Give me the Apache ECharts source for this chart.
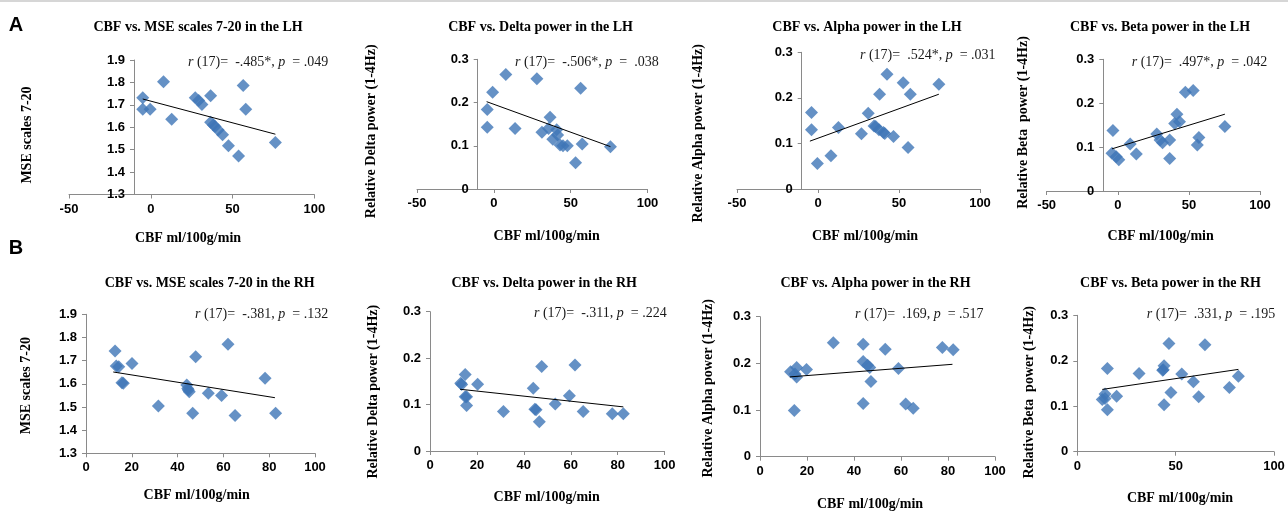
<!DOCTYPE html>
<html><head><meta charset="utf-8">
<script src="https://cdn.jsdelivr.net/npm/echarts@6/dist/echarts.min.js"></script>
<style>html,body{margin:0;padding:0;background:#fff}#c{width:1288px;height:512px}</style>
</head><body><div id="c"></div>
<script>
// ---------- DATA ----------
const xTicksLH = [-50, 0, 50, 100];
const xTicksRH20 = [0, 20, 40, 60, 80, 100];
const xTicksRH50 = [0, 50, 100];
const yTicksMSE = [1.3, 1.4, 1.5, 1.6, 1.7, 1.8, 1.9];
const yTicksPower = [0, 0.1, 0.2, 0.3];

const panelTitles = [
  'CBF vs. MSE scales 7-20 in the LH', 'CBF vs. Delta power in the LH',
  'CBF vs. Alpha power in the LH', 'CBF vs. Beta power in the LH',
  'CBF vs. MSE scales 7-20 in the RH', 'CBF vs. Delta power in the RH',
  'CBF vs. Alpha power in the RH', 'CBF vs. Beta power in the RH'
];
const yNames = [
  'MSE scales 7-20', 'Relative Delta power (1-4Hz)', 'Relative Alpha power (1-4Hz)', 'Relative Beta  power (1-4Hz)',
  'MSE scales 7-20', 'Relative Delta power (1-4Hz)', 'Relative Alpha power (1-4Hz)', 'Relative Beta  power (1-4Hz)'
];
const xName = 'CBF ml/100g/min';
const stats = [
  '{i|r} (17)=  -.485*, {i|p}  = .049', '{i|r} (17)=  -.506*, {i|p}  =  .038',
  '{i|r} (17)=  .524*, {i|p}  = .031', '{i|r} (17)=  .497*, {i|p}  = .042',
  '{i|r} (17)=  -.381, {i|p}  = .132', '{i|r} (17)=  -.311, {i|p}  = .224',
  '{i|r} (17)=  .169, {i|p}  = .517', '{i|r} (17)=  .331, {i|p}  = .195'
];

const mseLH_x = [-4.9, -4.9, -0.4, 7.8, 12.8, 27.2, 29.3, 31.3, 36.6, 36.6, 38.3, 39.3, 41.2, 43.9, 47.5, 53.7, 56.5, 58.1, 76.2];
const mseLH_y = [1.732, 1.68, 1.68, 1.803, 1.636, 1.732, 1.719, 1.702, 1.741, 1.622, 1.61, 1.603, 1.588, 1.566, 1.517, 1.472, 1.786, 1.68, 1.532];
const mseLH_trend = [[-4.9, 1.726], [76.2, 1.569]];

const deltaLH_x = [-4.3, -4.3, -0.8, 7.8, 13.8, 28, 31.3, 36.6, 35.6, 40.9, 38.4, 43.1, 47.8, 53.2, 56.5, 57.5, 75.9, 41.5, 45];
const deltaLH_y = [0.184, 0.143, 0.224, 0.265, 0.140, 0.255, 0.131, 0.166, 0.140, 0.137, 0.115, 0.102, 0.100, 0.061, 0.233, 0.104, 0.098, 0.125, 0.100];
const deltaLH_trend = [[-4.7, 0.202], [75.9, 0.098]];

const alphaLH_x = [-4, -4, -0.4, 8, 12.6, 26.8, 31, 34.6, 35.6, 37.6, 38, 40.4, 41.2, 42.6, 46.6, 52.6, 55.6, 57, 74.6];
const alphaLH_y = [0.168, 0.130, 0.056, 0.073, 0.135, 0.121, 0.166, 0.138, 0.137, 0.130, 0.208, 0.124, 0.122, 0.252, 0.115, 0.233, 0.091, 0.208, 0.230];
const alphaLH_trend = [[-5, 0.105], [74.6, 0.208]];

const betaLH_x = [-3.4, -4.1, -1.1, 0.7, 8.7, 13, 27.4, 29.7, 31.5, 36.5, 36.5, 40, 41.6, 43.4, 47.5, 53, 55.9, 57, 75.3];
const betaLH_y = [0.138, 0.086, 0.078, 0.071, 0.107, 0.084, 0.130, 0.116, 0.110, 0.116, 0.074, 0.154, 0.175, 0.158, 0.225, 0.229, 0.105, 0.122, 0.147];
const betaLH_trend = [[-4.1, 0.096], [75.3, 0.175]];

const mseRH_x = [12.7, 13.2, 14.3, 15.7, 16.3, 20.1, 31.6, 44, 44.4, 44.7, 45.1, 46.6, 47.9, 53.4, 59.2, 62, 65.1, 78.2, 82.8];
const mseRH_y = [1.742, 1.677, 1.674, 1.605, 1.602, 1.688, 1.504, 1.595, 1.58, 1.573, 1.566, 1.473, 1.717, 1.559, 1.549, 1.771, 1.463, 1.624, 1.473];
const mseRH_trend = [[11.9, 1.651], [82.5, 1.540]];

const deltaRH_x = [13.1, 13.5, 15, 15, 15.6, 15.6, 20.3, 31.3, 44, 44.7, 45.2, 46.6, 47.6, 53.4, 59.4, 61.8, 65.3, 77.7, 82.4];
const deltaRH_y = [0.146, 0.143, 0.165, 0.117, 0.117, 0.098, 0.144, 0.085, 0.135, 0.090, 0.089, 0.063, 0.182, 0.101, 0.119, 0.185, 0.085, 0.080, 0.080];
const deltaRH_trend = [[12.8, 0.133], [82.4, 0.095]];

const alphaRH_x = [13, 14.9, 15.6, 15.6, 14.6, 19.8, 31.2, 43.9, 43.9, 43.9, 45.8, 46.7, 47.2, 53.3, 58.9, 62, 65.2, 77.6, 82.2];
const alphaRH_y = [0.182, 0.177, 0.191, 0.171, 0.099, 0.187, 0.244, 0.241, 0.204, 0.114, 0.196, 0.191, 0.161, 0.230, 0.189, 0.113, 0.104, 0.234, 0.229];
const alphaRH_trend = [[12.7, 0.171], [81.9, 0.198]];

const betaRH_x = [12.7, 14.1, 14.1, 15.3, 15.3, 20, 31.4, 43.4, 43.7, 44.1, 44.1, 46.6, 47.6, 53.1, 59, 61.7, 64.9, 77.3, 81.9];
const betaRH_y = [0.115, 0.127, 0.117, 0.183, 0.092, 0.122, 0.172, 0.179, 0.180, 0.189, 0.103, 0.238, 0.130, 0.171, 0.154, 0.121, 0.235, 0.141, 0.166];
const betaRH_trend = [[12.7, 0.137], [81.9, 0.181]];

// ---------- LAYOUT (pixels) ----------
const layout = [
  {grid:[69,60,245.3,134.5], yOff:-65, title:[198,27], stat:[188,62], yName:[27,135], xName:[188,238]},
  {grid:[417,59.3,230.5,129.7], yOff:-60.7, title:[540.5,27], stat:[515,62], yName:[371.7,131.3], xName:[546.7,236]},
  {grid:[737,52.3,243,136.7], yOff:-64.7, title:[867,27], stat:[860,55], yName:[698.3,133.3], xName:[865,236]},
  {grid:[1046.7,59.3,213.3,131.7], yOff:-56.6, title:[1160,27], stat:[1131.7,62], yName:[1023.3,122.5], xName:[1160.7,236]},
  {grid:[86,314.3,229,139], yOff:0, title:[209.7,283.3], stat:[195,314.3], yName:[26.7,385.7], xName:[196.7,495]},
  {grid:[430,311.7,234.6,139.3], yOff:0, title:[544.2,283.3], stat:[534,313.3], yName:[373.3,391.7], xName:[546.7,497.3]},
  {grid:[760,316.7,235,140], yOff:0, title:[875.5,283.3], stat:[855,314.3], yName:[708.3,388.3], xName:[870,504.3]},
  {grid:[1077.3,315.3,196.7,136.4], yOff:0, title:[1170.5,283.3], stat:[1146.7,314], yName:[1029.3,392.3], xName:[1180,498.3]}
];

const panels = [
  {xs: mseLH_x, ys: mseLH_y, trend: mseLH_trend, xt: xTicksLH, yt: yTicksMSE},
  {xs: deltaLH_x, ys: deltaLH_y, trend: deltaLH_trend, xt: xTicksLH, yt: yTicksPower},
  {xs: alphaLH_x, ys: alphaLH_y, trend: alphaLH_trend, xt: xTicksLH, yt: yTicksPower},
  {xs: betaLH_x, ys: betaLH_y, trend: betaLH_trend, xt: xTicksLH, yt: yTicksPower},
  {xs: mseRH_x, ys: mseRH_y, trend: mseRH_trend, xt: xTicksRH20, yt: yTicksMSE},
  {xs: deltaRH_x, ys: deltaRH_y, trend: deltaRH_trend, xt: xTicksRH20, yt: yTicksPower},
  {xs: alphaRH_x, ys: alphaRH_y, trend: alphaRH_trend, xt: xTicksRH20, yt: yTicksPower},
  {xs: betaRH_x, ys: betaRH_y, trend: betaRH_trend, xt: xTicksRH50, yt: yTicksPower}
];

const SERIF = '"Liberation Serif", "Times New Roman", serif';
const SANS = '"Liberation Sans", Arial, sans-serif';
const AXIS_COLOR = '#8a8a8a';
const MARK_COLOR = '#3F76B6';

const grids = [], xAxes = [], yAxes = [], series = [], graphics = [];

graphics.push({type:'rect', shape:{x:0, y:0, width:1288, height:2}, style:{fill:'#d6d6d6'}, silent:true});
graphics.push({type:'text', x:16, y:25, style:{text:'A', fontFamily:SANS, fontWeight:'bold', fontSize:20, fill:'#000', align:'center', verticalAlign:'middle'}});
graphics.push({type:'text', x:16, y:248, style:{text:'B', fontFamily:SANS, fontWeight:'bold', fontSize:20, fill:'#000', align:'center', verticalAlign:'middle'}});

panels.forEach((p, i) => {
  const L = layout[i];
  grids.push({left: L.grid[0], top: L.grid[1], width: L.grid[2], height: L.grid[3], containLabel: false});
  const xt = p.xt, yt = p.yt;
  xAxes.push({
    gridIndex: i, type: 'value',
    min: xt[0], max: xt[xt.length - 1], interval: xt[1] - xt[0],
    axisLine: {show: true, onZero: false, lineStyle: {color: AXIS_COLOR, width: 1}},
    axisTick: {show: true, length: 4, lineStyle: {color: AXIS_COLOR}},
    axisLabel: {fontFamily: SANS, fontWeight: 'bold', fontSize: 13, color: '#000', margin: 8},
    splitLine: {show: false}
  });
  yAxes.push({
    gridIndex: i, type: 'value', offset: L.yOff,
    min: yt[0], max: yt[yt.length - 1], interval: Math.round((yt[1] - yt[0]) * 1000) / 1000,
    axisLine: {show: true, onZero: false, lineStyle: {color: AXIS_COLOR, width: 1}},
    axisTick: {show: true, length: 4, lineStyle: {color: AXIS_COLOR}},
    axisLabel: {fontFamily: SANS, fontWeight: 'bold', fontSize: 13, color: '#000', margin: 9,
      formatter: v => String(Math.round(v * 100) / 100)},
    splitLine: {show: false}
  });
  series.push({
    type: 'scatter', xAxisIndex: i, yAxisIndex: i,
    symbol: 'diamond', symbolSize: 13,
    itemStyle: {color: MARK_COLOR},
    data: p.xs.map((x, k) => [x, p.ys[k]]),
    z: 2, silent: true
  });
  series.push({
    type: 'line', xAxisIndex: i, yAxisIndex: i,
    data: p.trend, symbol: 'none',
    lineStyle: {color: '#000', width: 1},
    z: 3, silent: true
  });
  graphics.push({type:'text', x: L.title[0], y: L.title[1],
    style:{text: panelTitles[i], fontFamily: SERIF, fontWeight:'bold', fontSize:14, fill:'#000', align:'center', verticalAlign:'middle'}});
  graphics.push({type:'text', x: L.stat[0], y: L.stat[1],
    style:{text: stats[i], fontFamily: SERIF, fontSize:14, fill:'#1a1a1a', align:'left', verticalAlign:'middle',
      rich: {i: {fontFamily: SERIF, fontSize: 14, fontStyle: 'italic', fill:'#1a1a1a'}}}});
  graphics.push({type:'text', x: L.yName[0], y: L.yName[1], rotation: Math.PI / 2,
    style:{text: yNames[i], fontFamily: SERIF, fontWeight:'bold', fontSize:14, fill:'#000', align:'center', verticalAlign:'middle'}});
  graphics.push({type:'text', x: L.xName[0], y: L.xName[1],
    style:{text: xName, fontFamily: SERIF, fontWeight:'bold', fontSize:14, fill:'#000', align:'center', verticalAlign:'middle'}});
});

const chart = echarts.init(document.getElementById('c'), null, {renderer: 'canvas'});
chart.setOption({
  animation: false,
  backgroundColor: '#fff',
  grid: grids, xAxis: xAxes, yAxis: yAxes, series: series,
  graphic: graphics
});
</script></body></html>
